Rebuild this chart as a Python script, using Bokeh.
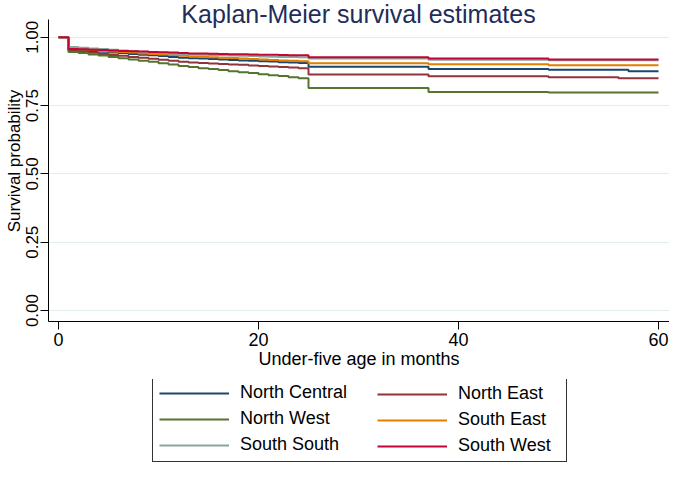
from bokeh.plotting import figure
from bokeh.layouts import column
from bokeh.models import Range1d, Legend, LegendItem, Label, FixedTicker, NumeralTickFormatter
from bokeh.embed import file_html
from bokeh.resources import INLINE

# ---- data ----
early = list(range(0, 26))

nc_t = early + [37, 49, 57, 60]
nc_s = [1.0, 0.955, 0.952, 0.950, 0.947, 0.944, 0.942, 0.939, 0.936, 0.934, 0.931, 0.928, 0.925,
        0.923, 0.922, 0.920, 0.919, 0.917, 0.915, 0.914, 0.912, 0.911, 0.909, 0.908, 0.906, 0.892,
        0.884, 0.881, 0.876, 0.876]

ne_t = early + [37, 49, 56, 60]
ne_s = [1.0, 0.950, 0.946, 0.943, 0.939, 0.935, 0.932, 0.928, 0.925, 0.921, 0.918, 0.914, 0.910,
        0.908, 0.906, 0.904, 0.902, 0.900, 0.899, 0.897, 0.895, 0.893, 0.891, 0.889, 0.887, 0.864,
        0.857, 0.854, 0.850, 0.850]

nw_t = early + [37, 49, 60]
nw_s = [1.0, 0.946, 0.942, 0.937, 0.933, 0.928, 0.923, 0.919, 0.914, 0.910, 0.905, 0.900, 0.895,
        0.891, 0.887, 0.884, 0.880, 0.876, 0.872, 0.869, 0.865, 0.861, 0.858, 0.854, 0.850, 0.814,
        0.800, 0.798, 0.798]

se_t = early + [37, 49, 60]
se_s = [1.0, 0.957, 0.955, 0.953, 0.950, 0.948, 0.946, 0.944, 0.941, 0.939, 0.937, 0.935, 0.932,
        0.930, 0.929, 0.927, 0.925, 0.924, 0.922, 0.920, 0.919, 0.917, 0.915, 0.914, 0.912, 0.905,
        0.901, 0.898, 0.898]

ss_t = early + [37, 49, 60]
ss_s = [1.0, 0.964, 0.962, 0.959, 0.957, 0.954, 0.952, 0.950, 0.947, 0.945, 0.943, 0.940, 0.938,
        0.937, 0.936, 0.935, 0.934, 0.933, 0.932, 0.931, 0.930, 0.929, 0.928, 0.928, 0.927, 0.922,
        0.918, 0.916, 0.916]

sw_t = early + [37, 49, 60]
sw_s = [1.0, 0.957, 0.956, 0.954, 0.953, 0.952, 0.950, 0.949, 0.948, 0.946, 0.945, 0.944, 0.942,
        0.941, 0.941, 0.940, 0.939, 0.938, 0.938, 0.937, 0.936, 0.936, 0.935, 0.934, 0.934, 0.927,
        0.922, 0.919, 0.919]

regions = ["North Central", "North East", "North West", "South East", "South South", "South West"]
colors = ["#1a476f", "#90353b", "#55752f", "#e37e00", "#8aa59b", "#c10534"]
series = [(nc_t, nc_s), (ne_t, ne_s), (nw_t, nw_s), (se_t, se_s), (ss_t, ss_s), (sw_t, sw_s)]

x_ticks = [0, 20, 40, 60]
y_ticks = [0.0, 0.25, 0.5, 0.75, 1.0]

FONT = "Liberation Sans"

# ---------------- main chart ----------------
p = figure(width=669, height=379, output_backend="svg", toolbar_location=None,
           x_range=Range1d(-1.0, 61.1), y_range=Range1d(-0.04, 1.1345),
           min_border_left=48, min_border_right=0, min_border_top=0, min_border_bottom=58)
p.outline_line_color = None
p.background_fill_color = "white"
p.border_fill_color = "white"

for (t, s), c in zip(series, colors):
    p.step(t, s, mode="after", line_color=c, line_width=2)

p.xaxis.ticker = FixedTicker(ticks=x_ticks)
p.yaxis.ticker = FixedTicker(ticks=y_ticks)
p.yaxis.formatter = NumeralTickFormatter(format="0.00")
p.yaxis.major_label_orientation = "vertical"
p.yaxis.bounds = (-0.04, 1.065)
for ax in (p.xaxis, p.yaxis):
    ax.axis_line_color = "#000000"
    ax.major_tick_line_color = "#000000"
    ax.minor_tick_line_color = None
    ax.major_tick_in = 0
    ax.major_tick_out = 8
    ax.major_label_text_font = FONT
    ax.major_label_text_color = "#000000"
    ax.axis_label_text_font = FONT
    ax.axis_label_text_font_style = "normal"
    ax.axis_label_text_color = "#000000"
p.xaxis.major_label_text_font_size = "18px"
p.yaxis.major_label_text_font_size = "17px"
p.xaxis.axis_label = "Under-five age in months"
p.yaxis.axis_label = "Survival probability"
p.xaxis.axis_label_text_font_size = "18px"
p.yaxis.axis_label_text_font_size = "17px"
p.xaxis.major_label_standoff = 3
p.yaxis.major_label_standoff = 2
p.xaxis.axis_label_standoff = 0
p.yaxis.axis_label_standoff = 0

p.xgrid.visible = False
p.ygrid.ticker = FixedTicker(ticks=y_ticks)
p.ygrid.grid_line_color = "#e3ecef"
p.ygrid.grid_line_width = 1

p.add_layout(Label(x=30, y=1.0836, text="Kaplan-Meier survival estimates", text_align="center",
                   text_baseline="middle", text_font=FONT, text_font_size="25px",
                   text_color="#1f2d5a"))

# ---------------- legend strip ----------------
# the same series are drawn here outside the visible range; only their legend swatches show
lg = figure(width=669, height=85, output_backend="svg", toolbar_location=None,
            x_axis_type=None, y_axis_type=None, x_range=Range1d(0, 60), y_range=Range1d(5, 6),
            min_border=0)
lg.outline_line_color = None
lg.xgrid.visible = False
lg.ygrid.visible = False
lg.background_fill_color = "white"
lg.border_fill_color = "white"

swatches = [lg.step(t, s, mode="after", line_color=c, line_width=2)
            for (t, s), c in zip(series, colors)]

def make_legend(idx, loc, boxed, lw):
    items = [LegendItem(label=regions[i], renderers=[swatches[i]]) for i in idx]
    leg = Legend(items=items, location=loc, orientation="vertical",
                 glyph_width=70, glyph_height=20, label_height=20, label_width=lw,
                 label_standoff=11, spacing=5, padding=6, margin=0,
                 label_text_font=FONT, label_text_font_size="18px", label_text_color="#000000",
                 border_line_color="#333333", border_line_width=1,
                 background_fill_color="white")
    if boxed:
        leg.border_line_alpha = 1
        leg.background_fill_alpha = 1
    else:
        leg.border_line_alpha = 0
        leg.background_fill_alpha = 0
    return leg

lg.add_layout(make_legend([0, 2, 4], (104, 2), True, 320))
lg.add_layout(make_legend([1, 3, 5], (323, 2), False, 100))

layout = column(p, lg, spacing=0)
open("out.html", "w").write(file_html(layout, INLINE))
